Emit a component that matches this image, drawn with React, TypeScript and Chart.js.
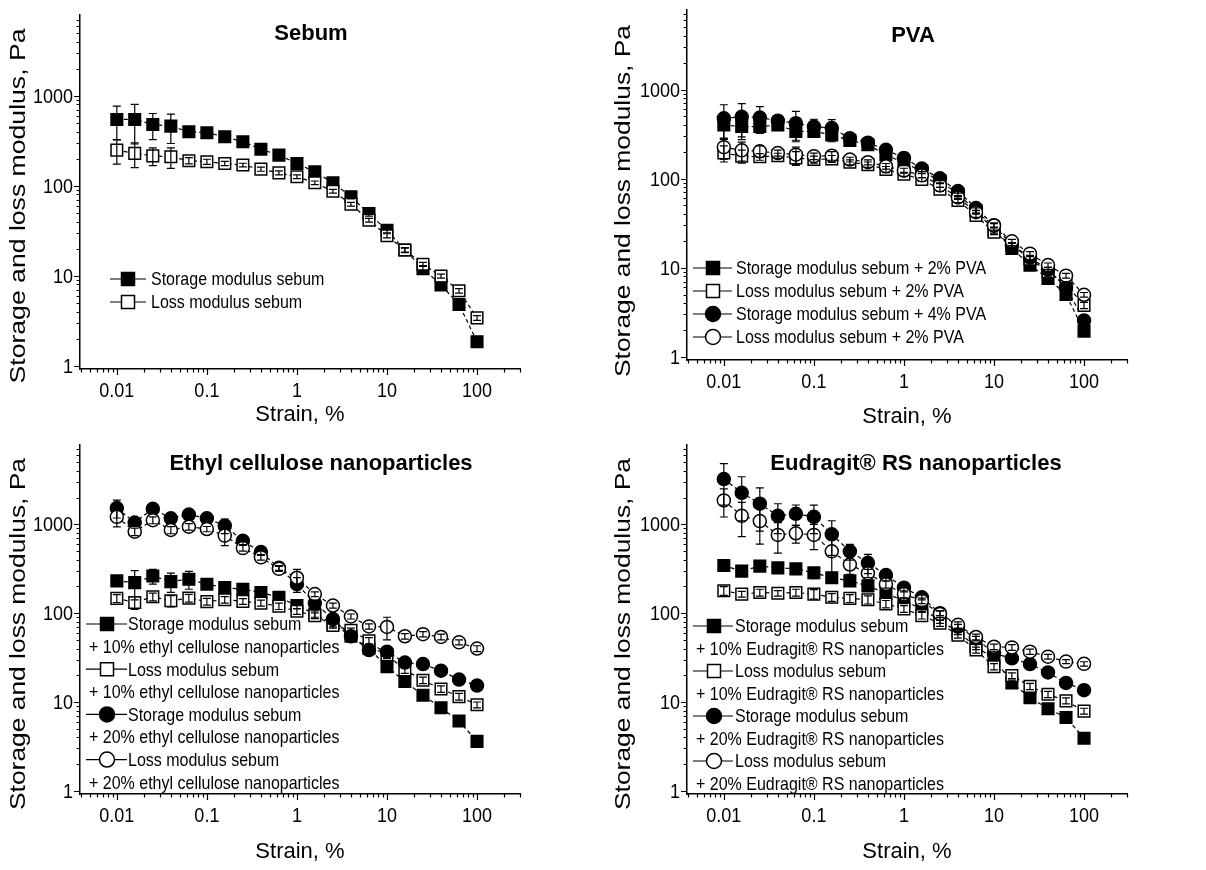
import React, { useEffect, useRef } from 'react';
import { Chart, registerables } from 'chart.js';

Chart.register(...registerables);

// ---------- data ----------
const STRAIN = [0.01, 0.0158, 0.0251, 0.0398, 0.0631, 0.1, 0.158, 0.251, 0.398, 0.631, 1, 1.58, 2.51, 3.98, 6.31, 10, 15.8, 25.1, 39.8, 63.1, 100];
const X_TICK_LABELS = ['0.01', '0.1', '1', '10', '100'];
const Y_TICK_LABELS = ['1', '10', '100', '1000'];
const X_MIN = 0.0039;
const X_MAX = 300;
const Y_MIN = 0.92;
const Y_MAX = 7900;

// Sebum
const SEBUM_STORAGE = [546, 546, 480, 460, 398, 388, 350, 308, 255, 219, 177, 143, 108, 75.5, 49, 32, 19.3, 12, 7.9, 4.8, 1.85];
const SEBUM_STORAGE_ERR = [220, 255, 155, 165, 40, 35, 30, 25, 20, 15, 10, 8, 5, 4, 3, 2, 1.2, 1, 0.6, 0.4, 0.2];
const SEBUM_LOSS = [249, 229, 215, 210, 190, 185, 177, 170, 153, 139, 126, 108, 87, 62.5, 41.5, 27.8, 19.3, 13.4, 9.9, 6.8, 3.4];
const SEBUM_LOSS_ERR = [75, 70, 48, 54, 15, 12, 10, 8, 8, 7, 6, 5, 4, 3, 2, 1.5, 1, 0.7, 0.5, 0.4, 0.2];

// PVA
const PVA2_STORAGE = [400, 385, 385, 400, 340, 340, 310, 269, 240, 186, 150, 122, 95, 67, 44, 26.5, 16.5, 10.7, 7.6, 5.0, 1.94];
const PVA2_STORAGE_ERR = [120, 110, 60, 30, 80, 40, 50, 20, 20, 15, 10, 8, 5, 4, 3, 2, 1.2, 0.8, 0.5, 0.4, 0.15];
const PVA2_LOSS = [194, 179, 176, 181, 171, 164, 167, 153, 144, 127, 112, 98, 76, 57, 38.7, 25, 18, 12.5, 9, 6.5, 3.78];
const PVA2_LOSS_ERR = [40, 30, 15, 12, 30, 15, 15, 10, 10, 10, 6, 5, 4, 3, 2, 1.5, 1, 0.8, 0.6, 0.5, 0.3];
const PVA4_STORAGE = [476, 495, 485, 448, 420, 385, 370, 284, 254, 211, 171, 130, 101, 72.6, 46.8, 30, 18, 13, 9.5, 6, 2.56];
const PVA4_STORAGE_ERR = [200, 200, 160, 60, 150, 80, 90, 30, 25, 30, 15, 10, 6, 4, 3, 2, 1.2, 0.8, 0.6, 0.5, 0.2];
const PVA4_LOSS = [226, 208, 203, 194, 186, 179, 181, 164, 153, 138, 123, 109, 84, 61.6, 42, 29.8, 19.8, 14.4, 10.7, 8.15, 4.97];
const PVA4_LOSS_ERR = [60, 50, 30, 15, 40, 15, 20, 10, 10, 10, 8, 6, 4, 3, 2, 1.5, 1, 0.8, 0.6, 0.5, 0.3];

// Ethyl cellulose
const EC10_STORAGE = [231, 221, 262, 227, 241, 212, 194, 186, 171, 151, 122, 98, 76, 55, 40, 25, 17, 11.9, 8.6, 6.1, 3.6];
const EC10_STORAGE_ERR = [30, 80, 50, 55, 55, 20, 15, 15, 15, 12, 10, 8, 6, 4, 3, 2, 1.2, 0.8, 0.5, 0.4, 0.2];
const EC10_LOSS = [147, 132, 153, 138, 148, 135, 142, 136, 130, 120, 105, 94, 73, 64, 49, 34, 23, 17.6, 14, 11.5, 9.3];
const EC10_LOSS_ERR = [15, 22, 15, 20, 15, 12, 12, 10, 10, 10, 8, 7, 5, 4, 4, 3, 2, 1.5, 1.2, 1, 0.7];
const EC20_STORAGE = [1530, 1050, 1500, 1170, 1290, 1170, 967, 653, 488, 324, 212, 130, 86, 55, 38.5, 36.9, 27.8, 26.7, 22.5, 17.9, 15.3];
const EC20_STORAGE_ERR = [350, 100, 120, 100, 100, 100, 180, 60, 40, 20, 40, 10, 6, 4, 3, 3, 2, 1.5, 1, 1, 0.8];
const EC20_LOSS = [1217, 829, 1117, 865, 942, 887, 748, 541, 426, 316, 251, 164, 122, 92, 71, 70, 55, 58, 54, 47, 40];
const EC20_LOSS_ERR = [280, 80, 100, 80, 80, 60, 170, 40, 30, 20, 60, 10, 8, 6, 5, 20, 4, 4, 4, 3, 3];

// Eudragit RS
const EU10_STORAGE = [344, 298, 339, 324, 316, 285, 251, 231, 203, 167, 138, 112, 83, 61.5, 41.9, 31, 16.4, 11.2, 8.4, 6.7, 3.9];
const EU10_STORAGE_ERR = [40, 30, 30, 30, 30, 40, 35, 30, 25, 15, 10, 8, 6, 4, 3, 2, 1.2, 0.8, 0.6, 0.4, 0.3];
const EU10_LOSS = [179, 164, 171, 168, 171, 164, 151, 147, 142, 127, 112, 94, 77, 56.5, 38.5, 25, 19.8, 15, 12.2, 10.3, 7.9];
const EU10_LOSS_ERR = [20, 12, 15, 12, 15, 20, 15, 15, 15, 12, 10, 8, 6, 4, 3, 2, 1.5, 1.2, 1, 0.8, 0.6];
const EU20_STORAGE = [3245, 2270, 1710, 1248, 1315, 1217, 774, 497, 369, 269, 194, 151, 100, 71, 51.9, 35.3, 31, 26.7, 21.5, 16.4, 13.6];
const EU20_STORAGE_ERR = [1600, 1170, 870, 460, 340, 430, 325, 100, 90, 40, 20, 10, 6, 4, 3, 2, 2, 1.5, 1, 1, 0.8];
const EU20_LOSS = [1862, 1248, 1089, 761, 794, 761, 497, 353, 281, 212, 164, 138, 98, 74, 54, 41.9, 41.2, 36.9, 32.4, 28.5, 26.9];
const EU20_LOSS_ERR = [650, 520, 490, 285, 180, 240, 246, 80, 30, 20, 15, 10, 8, 6, 4, 3, 3, 2.5, 2, 1.5, 1.5];

const X_TITLE = 'Strain, %';
const Y_TITLE = 'Storage and loss modulus, Pa';

// ---------- styles ----------
const SANS = "'Liberation Sans', Arial, sans-serif";
const W = 603;
const H = 435;
const TICK_STRETCH = 1.08;
const LEGEND_STRETCH = 1.12;

type Series = { label: string; values: number[]; errors: number[]; shape: 'rect' | 'circle'; filled: boolean };
type LegendCfg = { lineX0: number; lineX1: number; markerX: number; textX: number; contX: number; rowY0: number; rowStep: number };
type PanelCfg = {
  pos: { left: number; top: number };
  area: { left: number; top: number; right: number; bottom: number };
  title: string; titleX: number; titleY: number;
  yTitleX: number; yTitleY: number; yTitleLen: number;
  xTitleX: number; xTitleY: number;
  legend: LegendCfg;
  series: Series[];
};

const PANELS: PanelCfg[] = [
  {
    pos: { left: 0, top: 0 },
    area: { left: 80, top: 15, right: 520, bottom: 369 },
    title: 'Sebum', titleX: 311, titleY: 40,
    yTitleX: 25, yTitleY: 206, yTitleLen: 355,
    xTitleX: 300, xTitleY: 421,
    legend: { lineX0: 110, lineX1: 146, markerX: 128, textX: 151, contX: 151, rowY0: 279, rowStep: 23 },
    series: [
      { label: 'Storage modulus sebum', values: SEBUM_STORAGE, errors: SEBUM_STORAGE_ERR, shape: 'rect', filled: true },
      { label: 'Loss modulus sebum', values: SEBUM_LOSS, errors: SEBUM_LOSS_ERR, shape: 'rect', filled: false },
    ],
  },
  {
    pos: { left: 603, top: 0 },
    area: { left: 84, top: 6, right: 524, bottom: 360 },
    title: 'PVA', titleX: 310, titleY: 41.5,
    yTitleX: 26.7, yTitleY: 201, yTitleLen: 352,
    xTitleX: 304, xTitleY: 423,
    legend: { lineX0: 90, lineX1: 129, markerX: 110, textX: 133, contX: 133, rowY0: 268, rowStep: 23 },
    series: [
      { label: 'Storage modulus sebum + 2% PVA', values: PVA2_STORAGE, errors: PVA2_STORAGE_ERR, shape: 'rect', filled: true },
      { label: 'Loss modulus sebum + 2% PVA', values: PVA2_LOSS, errors: PVA2_LOSS_ERR, shape: 'rect', filled: false },
      { label: 'Storage modulus sebum + 4% PVA', values: PVA4_STORAGE, errors: PVA4_STORAGE_ERR, shape: 'circle', filled: true },
      { label: 'Loss modulus sebum + 2% PVA', values: PVA4_LOSS, errors: PVA4_LOSS_ERR, shape: 'circle', filled: false },
    ],
  },
  {
    pos: { left: 0, top: 435 },
    area: { left: 80, top: 5, right: 520, bottom: 359 },
    title: 'Ethyl cellulose nanoparticles', titleX: 321, titleY: 35,
    yTitleX: 25, yTitleY: 199, yTitleLen: 352,
    xTitleX: 300, xTitleY: 423,
    legend: { lineX0: 86, lineX1: 127, markerX: 107, textX: 128, contX: 89, rowY0: 189, rowStep: 22.6 },
    series: [
      { label: 'Storage modulus sebum\n+ 10% ethyl cellulose nanoparticles', values: EC10_STORAGE, errors: EC10_STORAGE_ERR, shape: 'rect', filled: true },
      { label: 'Loss modulus sebum\n+ 10% ethyl cellulose nanoparticles', values: EC10_LOSS, errors: EC10_LOSS_ERR, shape: 'rect', filled: false },
      { label: 'Storage modulus sebum\n+ 20% ethyl cellulose nanoparticles', values: EC20_STORAGE, errors: EC20_STORAGE_ERR, shape: 'circle', filled: true },
      { label: 'Loss modulus sebum\n+ 20% ethyl cellulose nanoparticles', values: EC20_LOSS, errors: EC20_LOSS_ERR, shape: 'circle', filled: false },
    ],
  },
  {
    pos: { left: 603, top: 435 },
    area: { left: 84, top: 5, right: 524, bottom: 359 },
    title: 'Eudragit® RS nanoparticles', titleX: 313, titleY: 35,
    yTitleX: 26.7, yTitleY: 199, yTitleLen: 352,
    xTitleX: 304, xTitleY: 423,
    legend: { lineX0: 90, lineX1: 130, markerX: 111, textX: 132, contX: 93, rowY0: 191, rowStep: 22.5 },
    series: [
      { label: 'Storage modulus sebum\n+ 10% Eudragit® RS nanoparticles', values: EU10_STORAGE, errors: EU10_STORAGE_ERR, shape: 'rect', filled: true },
      { label: 'Loss modulus sebum\n+ 10% Eudragit® RS nanoparticles', values: EU10_LOSS, errors: EU10_LOSS_ERR, shape: 'rect', filled: false },
      { label: 'Storage modulus sebum\n+ 20% Eudragit® RS nanoparticles', values: EU20_STORAGE, errors: EU20_STORAGE_ERR, shape: 'circle', filled: true },
      { label: 'Loss modulus sebum\n+ 20% Eudragit® RS nanoparticles', values: EU20_LOSS, errors: EU20_LOSS_ERR, shape: 'circle', filled: false },
    ],
  },
];

function logTickValues(min: number, max: number): { v: number; major: boolean }[] {
  const out: { v: number; major: boolean }[] = [];
  for (let e = Math.floor(Math.log10(min)); e <= Math.ceil(Math.log10(max)); e++) {
    for (let m = 1; m <= 9; m++) {
      const v = m * Math.pow(10, e);
      if (v >= min * 0.9999 && v <= max * 1.0001) out.push({ v, major: m === 1 });
    }
  }
  return out;
}

function drawMarker(ctx: CanvasRenderingContext2D, x: number, y: number, shape: string, filled: boolean, size: number) {
  ctx.save();
  ctx.beginPath();
  if (shape === 'rect') {
    ctx.rect(x - size / 2, y - size / 2, size, size);
  } else {
    ctx.arc(x, y, size / 2, 0, Math.PI * 2);
  }
  ctx.fillStyle = filled ? '#000' : '#fff';
  ctx.fill();
  ctx.lineWidth = 1.5;
  ctx.strokeStyle = '#000';
  ctx.stroke();
  ctx.restore();
}

function stretchedText(ctx: CanvasRenderingContext2D, text: string, x: number, y: number, align: CanvasTextAlign, stretch: number) {
  ctx.save();
  ctx.translate(x, y);
  ctx.scale(1, stretch);
  ctx.textAlign = align;
  ctx.textBaseline = 'alphabetic';
  ctx.fillText(text, 0, 0);
  ctx.restore();
}

function makePlugin(cfg: PanelCfg) {
  return {
    id: 'decor',
    afterDatasetsDraw(chart: any) {
      const ctx: CanvasRenderingContext2D = chart.ctx;
      const ys = chart.scales.y;
      const ca = chart.chartArea;
      ctx.save();
      ctx.beginPath();
      ctx.rect(ca.left, ca.top - 2, ca.right - ca.left, ca.bottom - ca.top + 2);
      ctx.clip();
      ctx.strokeStyle = '#000';
      ctx.lineWidth = 1.2;
      chart.data.datasets.forEach((ds: any, i: number) => {
        const meta = chart.getDatasetMeta(i);
        const s = cfg.series[i];
        meta.data.forEach((pt: any, j: number) => {
          const v = s.values[j];
          const e = s.errors[j];
          if (!e) return;
          const top = ys.getPixelForValue(v + e);
          const bot = ys.getPixelForValue(Math.max(v - e, Y_MIN * 0.5));
          const x = pt.x;
          ctx.beginPath();
          ctx.moveTo(x, top);
          ctx.lineTo(x, bot);
          ctx.moveTo(x - 4, top);
          ctx.lineTo(x + 4, top);
          ctx.moveTo(x - 4, bot);
          ctx.lineTo(x + 4, bot);
          ctx.stroke();
        });
      });
      ctx.restore();
    },
    afterDraw(chart: any) {
      const ctx: CanvasRenderingContext2D = chart.ctx;
      const xs = chart.scales.x;
      const ys = chart.scales.y;
      const ca = chart.chartArea;
      ctx.save();
      // tick marks
      ctx.strokeStyle = '#000';
      ctx.lineWidth = 1.2;
      ctx.beginPath();
      logTickValues(X_MIN, X_MAX).forEach(({ v, major }) => {
        const px = Math.round(xs.getPixelForValue(v)) + 0.5;
        ctx.moveTo(px, ca.bottom);
        ctx.lineTo(px, ca.bottom + (major ? 6 : 3.5));
      });
      logTickValues(Y_MIN, Y_MAX).forEach(({ v, major }) => {
        const py = Math.round(ys.getPixelForValue(v)) + 0.5;
        ctx.moveTo(ca.left, py);
        ctx.lineTo(ca.left - (major ? 6 : 3.5), py);
      });
      ctx.stroke();

      ctx.fillStyle = '#000';
      // tick labels
      ctx.font = `18px ${SANS}`;
      X_TICK_LABELS.forEach((l) => {
        stretchedText(ctx, l, xs.getPixelForValue(Number(l)), ca.bottom + 27.5, 'center', TICK_STRETCH);
      });
      Y_TICK_LABELS.forEach((l) => {
        stretchedText(ctx, l, ca.left - 7, ys.getPixelForValue(Number(l)) + 7, 'right', TICK_STRETCH);
      });

      // title
      ctx.font = `bold 22px ${SANS}`;
      ctx.textAlign = 'center';
      ctx.textBaseline = 'alphabetic';
      ctx.fillText(cfg.title, cfg.titleX, cfg.titleY);
      // x title
      ctx.font = `22px ${SANS}`;
      ctx.fillText(X_TITLE, cfg.xTitleX, cfg.xTitleY);
      // y title (rotated)
      ctx.save();
      ctx.translate(cfg.yTitleX, cfg.yTitleY);
      ctx.rotate(-Math.PI / 2);
      const w = ctx.measureText(Y_TITLE).width;
      ctx.scale(cfg.yTitleLen / w, 1);
      ctx.fillText(Y_TITLE, 0, 0);
      ctx.restore();

      // legend
      const lg = cfg.legend;
      let row = 0;
      ctx.font = `16px ${SANS}`;
      chart.data.datasets.forEach((ds: any, i: number) => {
        const s = cfg.series[i];
        const lines = String(ds.label).split('\n');
        const y = lg.rowY0 + row * lg.rowStep;
        ctx.beginPath();
        ctx.lineWidth = 1.2;
        ctx.strokeStyle = '#000';
        ctx.moveTo(lg.lineX0, y);
        ctx.lineTo(lg.lineX1, y);
        ctx.stroke();
        drawMarker(ctx, lg.markerX, y, s.shape, s.filled, s.shape === 'rect' ? 13 : 15);
        ctx.fillStyle = '#000';
        lines.forEach((t, k) => {
          stretchedText(ctx, t, k === 0 ? lg.textX : lg.contX, y + k * lg.rowStep + 6.4, 'left', LEGEND_STRETCH);
        });
        row += lines.length;
      });
      ctx.restore();
    },
  };
}

function Panel({ cfg }: { cfg: PanelCfg }) {
  const ref = useRef<HTMLCanvasElement>(null);
  useEffect(() => {
    const canvas = ref.current;
    if (!canvas) return;
    const n = cfg.series.length;
    const chart = new Chart(canvas, {
      type: 'line',
      data: {
        datasets: cfg.series.map((s, i) => ({
          label: s.label,
          data: STRAIN.map((x, j) => ({ x, y: s.values[j] })),
          borderColor: '#000',
          borderWidth: 1.2,
          borderDash: [4, 3],
          fill: false,
          tension: 0,
          pointStyle: s.shape,
          pointRadius: s.shape === 'rect' ? 8.2 : 6.5,
          pointBorderWidth: 1.5,
          pointBorderColor: '#000',
          pointBackgroundColor: s.filled ? '#000' : '#fff',
          order: n - i,
        })),
      },
      options: {
        animation: false,
        responsive: false,
        devicePixelRatio: 1,
        layout: { padding: { top: cfg.area.top, right: W - cfg.area.right, left: 0, bottom: 0 } },
        plugins: { legend: { display: false }, tooltip: { enabled: false }, title: { display: false } },
        scales: {
          x: {
            type: 'logarithmic',
            position: 'bottom',
            min: X_MIN,
            max: X_MAX,
            grid: { display: false, drawTicks: false },
            border: { display: true, color: '#000', width: 1.5 },
            ticks: { display: false },
            afterFit: (s: any) => {
              s.height = H - cfg.area.bottom;
              s.paddingLeft = 0;
              s.paddingRight = 0;
            },
          },
          y: {
            type: 'logarithmic',
            position: 'left',
            min: Y_MIN,
            max: Y_MAX,
            grid: { display: false, drawTicks: false },
            border: { display: true, color: '#000', width: 1.5 },
            ticks: { display: false },
            afterFit: (s: any) => {
              s.width = cfg.area.left;
              s.paddingTop = 0;
              s.paddingBottom = 0;
            },
          },
        },
      },
      plugins: [makePlugin(cfg)],
    } as any);
    return () => chart.destroy();
  }, [cfg]);
  return (
    <canvas
      ref={ref}
      width={W}
      height={H}
      style={{ position: 'absolute', left: cfg.pos.left, top: cfg.pos.top, width: W, height: H }}
    />
  );
}

export default function App() {
  return (
    <div style={{ position: 'absolute', left: 0, top: 0, width: 1206, height: 870, background: '#fff' }}>
      {PANELS.map((p, i) => (
        <Panel key={i} cfg={p} />
      ))}
    </div>
  );
}
